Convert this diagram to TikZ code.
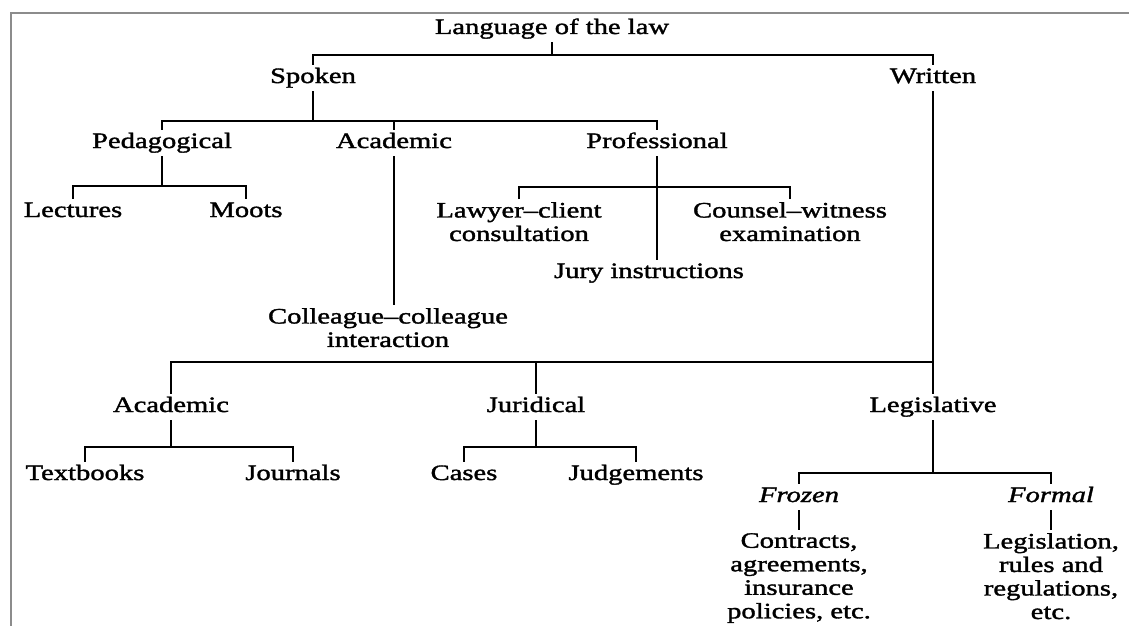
\documentclass[tikz,border=0pt]{standalone}
\usepackage{fontspec}
\setmainfont{Liberation Serif}[FakeStretch=1.3,FakeBold=1.6]

\begin{document}
\begin{tikzpicture}[%
  x=1pt, y=-1pt,
  every node/.style={font=\fontsize{22}{23.5}\selectfont, inner sep=3pt},
  lbl/.style={text height=15pt, text depth=5pt, anchor=base},
  multi/.style={align=center, anchor=north},
  edge/.style={line width=2.6pt},
  frame/.style={draw=black!45, line width=1.5pt}]
\useasboundingbox (0,0) rectangle (1129,626);
\draw[frame] (1129,13) -- (11,13) -- (11,626);

\coordinate (b1) at (0,55);
\coordinate (b2) at (0,121);
\coordinate (b3) at (0,186);
\coordinate (b4) at (0,187);
\coordinate (b5) at (0,362);
\coordinate (b6) at (0,447);
\coordinate (b7) at (0,473);

\node[lbl] (law) at (552,34) {Language of the law};
\node[lbl] (spoken) at (313,83) {Spoken};
\node[lbl] (written) at (933,83) {Written};

\node[lbl] (pedagogical) at (162,148) {Pedagogical};
\node[lbl] (academic) at (394,148) {Academic};
\node[lbl] (professional) at (657,148) {Professional};
\node[lbl] (lectures) at (73,217) {Lectures};
\node[lbl] (moots) at (246,217) {Moots};
\node[multi] (lawyer) at (519,199) {Lawyer--client\\consultation};
\node[multi] (counsel) at (790,199) {Counsel--witness\\examination};
\node[lbl] (jury) at (649,278) {Jury instructions};
\node[multi] (colleague) at (388,305) {Colleague--colleague\\interaction};

\node[lbl] (academictwo) at (171,412) {Academic};
\node[lbl] (juridical) at (536,412) {Juridical};
\node[lbl] (legislative) at (933,412) {Legislative};
\node[lbl] (textbooks) at (85,480) {Textbooks};
\node[lbl] (journals) at (293,480) {Journals};
\node[lbl] (cases) at (464,480) {Cases};
\node[lbl] (judgements) at (636,480) {Judgements};
\node[lbl, font=\fontsize{22}{23.5}\selectfont\itshape] (frozen) at (799,502) {Frozen};
\node[lbl, font=\fontsize{22}{23.5}\selectfont\itshape] (formal) at (1051,502) {Formal};
\node[multi] (contracts) at (799,530) {Contracts,\\agreements,\\insurance\\policies, etc.};
\node[multi] (legislation) at (1051,530) {Legislation,\\rules and\\regulations,\\etc.};

\draw[edge] (law.south) -- (law.south |- b1);
\draw[edge] (spoken.north) |- (written.north |- b1) -- (written.north);

\draw[edge] (spoken.south) -- (spoken.south |- b2);
\draw[edge] (pedagogical.north) |- (professional.north |- b2) -- (professional.north);
\draw[edge] (academic.north) -- (academic.north |- b2);

\draw[edge] (pedagogical.south) -- (pedagogical.south |- b3);
\draw[edge] (lectures.north) |- (moots.north |- b3) -- (moots.north);

\draw[edge] (academic.south) -- (academic.south |- colleague.north);

\draw[edge] (professional.south) -- (professional.south |- jury.north);
\draw[edge] (lawyer.north) |- (counsel.north |- b4) -- (counsel.north);

\draw[edge] (written.south) -- (legislative.north);
\draw[edge] (academictwo.north) |- (written.south |- b5);
\draw[edge] (juridical.north) -- (juridical.north |- b5);

\draw[edge] (academictwo.south) -- (academictwo.south |- b6);
\draw[edge] (textbooks.north) |- (journals.north |- b6) -- (journals.north);
\draw[edge] (juridical.south) -- (juridical.south |- b6);
\draw[edge] (cases.north) |- (judgements.north |- b6) -- (judgements.north);

\draw[edge] (legislative.south) -- (legislative.south |- b7);
\draw[edge] (frozen.north) |- (formal.north |- b7) -- (formal.north);
\draw[edge] (frozen.south) -- (contracts.north);
\draw[edge] (formal.south) -- (legislation.north);
\end{tikzpicture}
\end{document}
